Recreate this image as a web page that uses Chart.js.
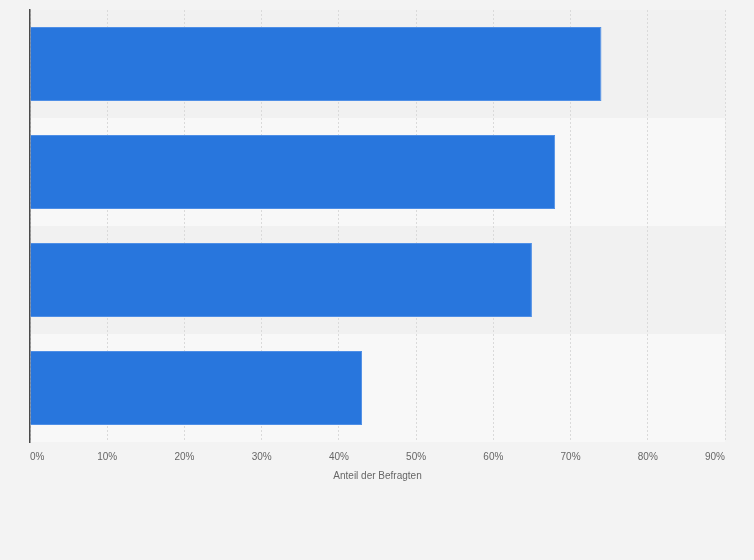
<!DOCTYPE html>
<html>
<head>
<meta charset="utf-8">
<script src="https://cdn.jsdelivr.net/npm/chart.js@4/dist/chart.umd.min.js"></script>
<style>
  html, body { margin: 0; padding: 0; background: #f3f3f3; }
  #wrap { width: 754px; height: 560px; }
</style>
</head>
<body>
<div id="wrap"><canvas id="chart"></canvas></div>
<script>
// categories have no visible labels in the source
const categories = ['', '', '', ''];
const shares = [74, 68, 65, 43];
const xTicks = [0, 10, 20, 30, 40, 50, 60, 70, 80, 90];
const axisTitle = 'Anteil der Befragten';

// alternating row bands, drawn before the grid so the dashed lines stay on top
const rowBands = {
    id: 'rowBands',
    beforeDraw(chart) {
        const { ctx, chartArea, scales } = chart;
        const y = scales.y;
        ctx.save();
        categories.forEach((c, i) => {
            const top = i === 0 ? chartArea.top : (y.getPixelForValue(i - 1) + y.getPixelForValue(i)) / 2;
            const bottom = i === categories.length - 1 ? chartArea.bottom : (y.getPixelForValue(i) + y.getPixelForValue(i + 1)) / 2;
            ctx.fillStyle = i % 2 === 0 ? '#f1f1f1' : '#f8f8f8';
            ctx.fillRect(chartArea.left, top, chartArea.right - chartArea.left, bottom - top);
        });
        ctx.restore();
    }
};

Chart.defaults.font.family = '"Liberation Sans", Arial, sans-serif';

new Chart(document.getElementById('chart').getContext('2d'), {
    type: 'bar',
    data: {
        labels: categories,
        datasets: [{
            data: shares,
            backgroundColor: '#2876dd',
            borderColor: '#4f8fe6',
            borderWidth: 1,
            categoryPercentage: 1,
            barPercentage: 0.685
        }]
    },
    options: {
        indexAxis: 'y',
        responsive: true,
        maintainAspectRatio: false,
        animation: false,
        layout: { padding: { left: 30, right: 29, top: 10, bottom: 78 } },
        plugins: { legend: { display: false }, tooltip: { enabled: false } },
        scales: {
            x: {
                min: 0,
                max: 90,
                afterBuildTicks: axis => { axis.ticks = xTicks.map(v => ({ value: v })); },
                grid: { color: '#dadada', lineWidth: 1, drawTicks: false, borderDash: [2, 2] },
                border: { display: false, dash: [2, 2] },
                ticks: {
                    padding: 9,
                    align: 'inner',
                    color: '#666666',
                    font: { size: 10 },
                    callback: v => v + '%'
                },
                title: {
                    display: true,
                    text: axisTitle,
                    color: '#666666',
                    font: { size: 10 },
                    padding: { top: -2, bottom: 0 }
                }
            },
            y: {
                grid: { display: false, drawTicks: false },
                border: { display: true, color: '#4a4a4a', width: 1.5 },
                ticks: { display: false }
            }
        }
    },
    plugins: [rowBands]
});
</script>
</body>
</html>
